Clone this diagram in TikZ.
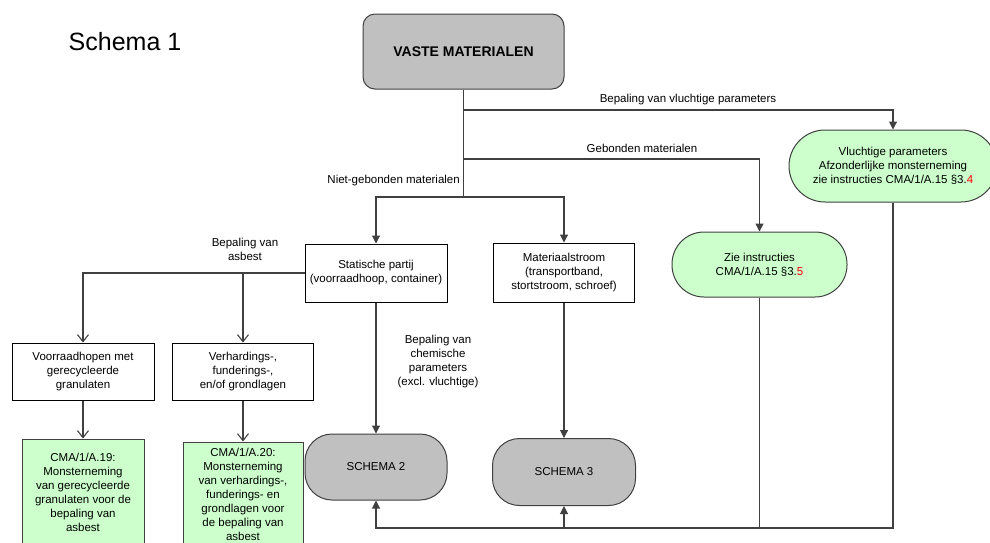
\documentclass[tikz,border=0pt]{standalone}
\usepackage{fontspec}
\setmainfont{Liberation Sans}
\usetikzlibrary{arrows.meta}

\definecolor{boxgray}{HTML}{C0C0C0}
\definecolor{boxgreen}{HTML}{CCFFCC}
\definecolor{linegray}{HTML}{404040}

\tikzset{
  txt/.style={font=\fontsize{11.5}{14}\selectfont, align=center, inner sep=0pt},
  plainbox/.style={txt, draw=black, line width=1pt, fill=white},
  graybox/.style={txt, draw=linegray, line width=1pt, fill=boxgray},
  greenbox/.style={txt, draw=linegray, line width=1pt, fill=boxgreen},
  conn/.style={draw=linegray, line width=1.1pt},
  solidarrow/.style={conn, -{Triangle[length=8pt,width=8pt]}},
  openarrow/.style={conn, -{Straight Barb[length=7pt,width=11pt]}},
}

\begin{document}
\begin{tikzpicture}[x=1pt, y=-1pt]
  \useasboundingbox (0,0) rectangle (990,542);

  % Title
  \node[inner sep=0pt, font=\fontsize{25}{30}\selectfont] (title) at (125,42) {Schema 1};

  % Top box
  \node[graybox, rounded corners=12pt, minimum width=201pt, minimum height=75pt,
        font=\fontsize{14}{17}\selectfont\bfseries] (vaste) at (463.5,51.5) {VASTE MATERIALEN};

  % Green end boxes on the right
  \node[greenbox, rounded corners=36pt, minimum width=208pt, minimum height=72pt] (vlucht) at (893,166)
    {Vluchtige parameters\\Afzonderlijke monsterneming\\zie instructies CMA/1/A.15 §3.\textcolor{red}{4}};
  \node[greenbox, rounded corners=32pt, minimum width=175pt, minimum height=65pt] (zie) at (759.5,264.5)
    {Zie instructies\\CMA/1/A.15 §3.\textcolor{red}{5}};

  % Middle row
  \node[plainbox, minimum width=142pt, minimum height=58pt] (statisch) at (376,273)
    {Statische partij\\(voorraadhoop, container)};
  \node[plainbox, minimum width=141pt, minimum height=59pt] (stroom) at (564,272.5)
    {Materiaalstroom\\(transportband,\\stortstroom, schroef)};

  % Asbest boxes
  \node[plainbox, minimum width=142pt, minimum height=57pt] (voorraad) at (83,371.5)
    {Voorraadhopen met\\gerecycleerde\\granulaten};
  \node[plainbox, minimum width=141pt, minimum height=57pt] (verhard) at (243,371.5)
    {Verhardings-,\\funderings-,\\en/of grondlagen};
  \node[greenbox, minimum width=122pt, minimum height=106pt] (cmanegen) at (83,492)
    {CMA/1/A.19:\\Monsterneming\\van gerecycleerde\\granulaten voor de\\bepaling van\\asbest};
  \node[greenbox, minimum width=120pt, minimum height=104pt] (cmatwin) at (243,494)
    {CMA/1/A.20:\\Monsterneming\\van verhardings-,\\funderings- en\\grondlagen voor\\de bepaling van\\asbest};

  % Schema boxes
  \node[graybox, rounded corners=27pt, minimum width=142pt, minimum height=66pt] (schematwee) at (376,467) {SCHEMA 2};
  \node[graybox, rounded corners=27pt, minimum width=143pt, minimum height=67pt] (schemadrie) at (564,472) {SCHEMA 3};

  % Junctions
  \coordinate (jvl) at (vaste.south |- 0,110);
  \coordinate (jgeb) at (vaste.south |- 0,159);
  \coordinate (jniet) at (vaste.south |- 0,197);
  \coordinate (jas) at (verhard.north |- statisch.west);
  \coordinate (jbot) at (schemadrie.south |- 0,528);

  % Connectors from the top box
  \draw[conn] (vaste.south) -- (jniet);
  \draw[solidarrow] (jvl) -| (vlucht.north);
  \draw[solidarrow] (jgeb) -| (zie.north);
  \draw[solidarrow] (jniet) -| (statisch.north);
  \draw[solidarrow] (jniet) -| (stroom.north);

  % Asbest branch
  \draw[openarrow] (statisch.west) -| (voorraad.north);
  \draw[openarrow] (jas) -- (verhard.north);
  \draw[openarrow] (voorraad.south) -- (cmanegen.north);
  \draw[openarrow] (verhard.south) -- (cmatwin.north);

  % To schema 2 and 3
  \draw[solidarrow] (statisch.south) -- (schematwee.north);
  \draw[solidarrow] (stroom.south) -- (schemadrie.north);

  % Return lines at the bottom
  \draw[solidarrow] (vlucht.south) |- (jbot) -| (schematwee.south);
  \draw[conn] (zie.south) |- (jbot);
  \draw[solidarrow] (jbot) -- (schemadrie.south);

  % Labels
  \node[txt] (lvl) at (688,100) {Bepaling van vluchtige parameters};
  \node[txt] (lgeb) at (642,148) {Gebonden materialen};
  \node[txt, anchor=east] (lniet) at (460,181) {Niet-gebonden materialen};
  \node[txt] (las) at (245,249) {Bepaling van\\asbest};
  \node[txt] (lchem) at (438,362) {Bepaling van\\chemische\\parameters\\(excl. vluchtige)};
\end{tikzpicture}
\end{document}
